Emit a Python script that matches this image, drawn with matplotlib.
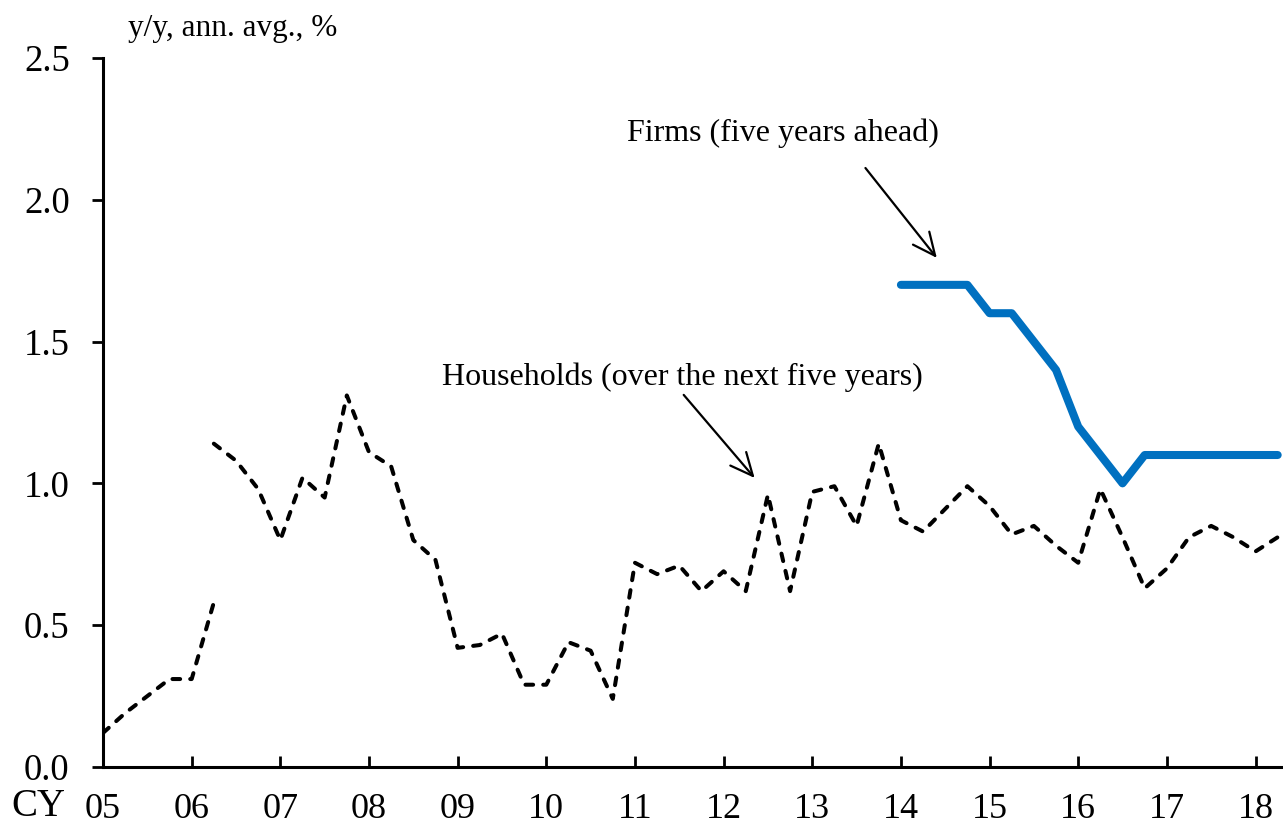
import numpy as np
import matplotlib
matplotlib.use("Agg")
import matplotlib.pyplot as plt

# Households, quarterly, two survey series (break in 2006 Q2)
hh_old_x = [5.0, 5.25, 5.5, 5.75, 6.0, 6.25]
hh_old = [0.12, 0.19, 0.25, 0.31, 0.31, 0.58]

hh_new_x = [6.25 + 0.25 * i for i in range(49)]
hh_new = [1.14, 1.08, 0.98,
          0.80, 1.02, 0.95, 1.31,
          1.11, 1.06, 0.80, 0.73,
          0.42, 0.43, 0.47, 0.29,
          0.29, 0.44, 0.41, 0.24,
          0.72, 0.68, 0.71, 0.62,
          0.69, 0.62, 0.96, 0.62,
          0.97, 0.99, 0.85, 1.14,
          0.87, 0.83, 0.91, 0.99,
          0.92, 0.82, 0.85, 0.78,
          0.72, 0.98, 0.81, 0.63,
          0.70, 0.81, 0.85, 0.81,
          0.76, 0.81]

# Firms, quarterly from 2014 Q1
firms_x = [14.0 + 0.25 * i for i in range(18)]
firms = [1.7, 1.7, 1.7, 1.7,
         1.6, 1.6, 1.5, 1.4,
         1.2, 1.1, 1.0, 1.1,
         1.1, 1.1, 1.1, 1.1,
         1.1, 1.1]

year_ticks = list(range(5, 19))
year_labels = ["%02d" % y for y in year_ticks]
y_ticks = [0.0, 0.5, 1.0, 1.5, 2.0, 2.5]

plt.rcParams["font.family"] = ["Liberation Serif", "DejaVu Serif"]

fig = plt.figure(figsize=(12.83, 8.27), dpi=100)
ax = fig.add_axes([0.0803, 0.0726, 0.9197, 0.8573])

ax.plot(hh_old_x, hh_old, color="black", lw=2.9, dashes=(1.9, 2.5),
        dash_capstyle="round", dash_joinstyle="round")
ax.plot(hh_new_x, hh_new, color="black", lw=2.9, dashes=(1.9, 2.5),
        dash_capstyle="round", dash_joinstyle="round")
ax.plot(firms_x, firms, color="#0070C0", lw=5.8,
        solid_capstyle="round", solid_joinstyle="round")

ax.set_xlim(5, 18.31)
ax.set_ylim(0, 2.5)

# spines
for s in ["top", "right"]:
    ax.spines[s].set_visible(False)
for s in ["left", "bottom"]:
    ax.spines[s].set_linewidth(2.2)

ax.set_xticks(year_ticks)
ax.set_xticklabels(year_labels)
ax.set_yticks(y_ticks)
ax.set_yticklabels(["%.1f" % v for v in y_ticks])
ax.tick_params(axis="x", direction="in", length=8, width=2, labelsize=26, pad=19)
ax.tick_params(axis="y", direction="out", length=8, width=2, labelsize=26.5, pad=16)

fig.text(0.009, 0.013, "CY", fontsize=28, ha="left", va="baseline")
fig.text(0.0995, 0.956, "y/y, ann. avg., %", fontsize=22.5, ha="left", va="baseline")

# annotations
arrow = dict(arrowstyle="->,head_length=0.65,head_width=0.3", color="black", lw=1.6,
             shrinkA=0, shrinkB=0, mutation_scale=25)
ax.text(12.67, 2.235, "Firms (five years ahead)", fontsize=23, ha="center", va="center")
ax.annotate("", xy=(14.405, 1.795), xytext=(13.60, 2.112), arrowprops=arrow)
ax.text(11.54, 1.375, "Households (over the next five years)", fontsize=23,
        ha="center", va="center")
ax.annotate("", xy=(12.35, 1.019), xytext=(11.55, 1.312), arrowprops=arrow)

fig.savefig("out.png", dpi=100)
